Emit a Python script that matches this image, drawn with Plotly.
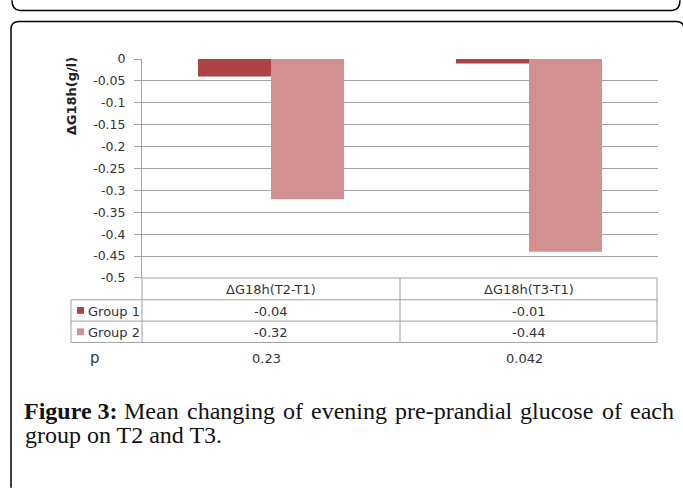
import plotly.graph_objects as go

# ---- data ----
categories = ["ΔG18h(T2-T1)", "ΔG18h(T3-T1)"]
group_names = ["Group 1", "Group 2"]
group1 = [-0.04, -0.01]
group2 = [-0.32, -0.44]
p_values = ["0.23", "0.042"]
y_tickvals = [0, -0.05, -0.1, -0.15, -0.2, -0.25, -0.3, -0.35, -0.4, -0.45, -0.5]
y_ticktext = ["0", "-0.05", "-0.1", "-0.15", "-0.2", "-0.25", "-0.3", "-0.35", "-0.4", "-0.45", "-0.5"]
y_label = "ΔG18h(g/l)"
caption_bold = "Figure 3:"
caption_words1 = ["Mean", "changing", "of", "evening", "pre-prandial", "glucose", "of", "each"]
caption_line2 = "group on T2 and T3."

# ---- layout helpers ----
W, H = 683, 490
def px(x):
    return x / W
def py(y):
    return 1 - y / H

colors = ["#AE4346", "#D29090"]
grid_col = "#A3A3A3"
table_col = "#A0A0A0"
font_fam = "DejaVu Sans"
txt_col = "#333333"

x_left, x_right = 142, 658
y_top, y_bot = 52.7, 278.5

fig = go.Figure()
for name, vals, c in zip(group_names, [group1, group2], colors):
    fig.add_trace(go.Bar(x=categories, y=vals, name=name, marker=dict(color=c, line=dict(width=0)),
                         showlegend=False))

shapes = []
annotations = []

def line(x0, y0, x1, y1, color=table_col, width=1):
    shapes.append(dict(type="line", xref="paper", yref="paper", x0=px(x0), y0=py(y0), x1=px(x1), y1=py(y1),
                       line=dict(color=color, width=width), layer="above"))

# table lines
t_left, t_div1, t_div2, t_right = 71, 142, 400, 657
r0, r1, r2, r3 = 278.5, 301, 323, 345
line(t_div1, r0, t_right, r0)
for r in [r1, r2, r3]:
    line(t_left, r, t_right, r)
line(t_left, r1, t_left, r3)
for xv in [t_div1, t_div2, t_right]:
    line(xv, r0, xv, r3)

tfont = dict(family=font_fam, size=13, color=txt_col)
# table texts (from data)
row_y = [(r0 + r1) / 2 + 1, (r1 + r2) / 2 + 1, (r2 + r3) / 2 + 1]
for i, cat in enumerate(categories):
    annotations.append(dict(x=cat, xref="x", y=py(row_y[0]), yref="paper", text=cat, showarrow=False,
                            font=tfont, xanchor="center", yanchor="middle"))
    for j, vals in enumerate([group1, group2]):
        annotations.append(dict(x=cat, xref="x", y=py(row_y[j + 1]), yref="paper", text=f"{vals[i]:.2f}",
                                showarrow=False, font=tfont, xanchor="center", yanchor="middle"))
    annotations.append(dict(x=cat, xref="x", xshift=-5, y=py(362), yref="paper", text=p_values[i], showarrow=False,
                            font=tfont, xanchor="center", yanchor="middle"))

# legend keys in table
for j, (name, c) in enumerate(zip(group_names, colors)):
    yc = (r1 + r2) / 2 if j == 0 else (r2 + r3) / 2
    shapes.append(dict(type="rect", xref="paper", yref="paper", x0=px(77), x1=px(84), y0=py(yc - 3.5), y1=py(yc + 3.5),
                       fillcolor=c, line=dict(width=0), layer="above"))
    annotations.append(dict(x=px(86), xref="paper", y=py(row_y[j + 1]), yref="paper", text=name, showarrow=False,
                            font=tfont, xanchor="left", yanchor="middle"))

annotations.append(dict(x=px(95), xref="paper", y=py(361), yref="paper", text="p", showarrow=False,
                        font=dict(family=font_fam, size=15, color=txt_col), xanchor="center", yanchor="middle"))

# y axis label
annotations.append(dict(x=px(71), xref="paper", y=py(91), yref="paper", text=f"<b>{y_label}</b>", showarrow=False,
                        textangle=-90, font=dict(family=font_fam, size=13, color="#222222"),
                        xanchor="center", yanchor="middle"))

# caption: line 1 justified between left and right edges using approximate serif glyph widths
csize = 24
cfont = dict(family="Liberation Serif", size=csize, color="#111111")
char_w = {"a": .444, "b": .5, "c": .444, "d": .5, "e": .444, "f": .333, "g": .5, "h": .5, "i": .278,
          "l": .278, "m": .778, "n": .5, "o": .5, "p": .5, "r": .333, "s": .389, "u": .5, "v": .5,
          "M": .889, "F": .611, "-": .333, " ": .25, "3": .5, ":": .333}
def text_w(s):
    return sum(char_w.get(ch, .5) for ch in s) * csize

cap_left, cap_right = 22, 672
pieces = [(f"<b>{caption_bold}</b>", text_w(caption_bold) * 1.02)] + [(w, text_w(w)) for w in caption_words1]
total = sum(w for _, w in pieces)
gap = (cap_right - cap_left - total) / (len(pieces) - 1)
line1_mid, line2_mid = 416, 440.5
xpos = cap_left
for txt, w in pieces:
    annotations.append(dict(x=px(xpos), xref="paper", y=py(line1_mid), yref="paper", text=txt,
                            showarrow=False, font=cfont, xanchor="left", yanchor="middle"))
    xpos += w + gap
annotations.append(dict(x=px(cap_left + 1), xref="paper", y=py(line2_mid), yref="paper", text=caption_line2,
                        showarrow=False, font=cfont, xanchor="left", yanchor="middle"))

# frames
r = 8
top_box = (f"M {px(12)},{py(-8)} Q {px(12)},{py(2.5)} {px(12 + r)},{py(2.5)} "
           f"L {px(672)},{py(2.5)} Q {px(680)},{py(2.5)} {px(680)},{py(-8)}")
shapes.append(dict(type="path", xref="paper", yref="paper", path=top_box,
                   line=dict(color="#000000", width=1.5)))
main_box = (f"M {px(11)},{py(495)} L {px(11)},{py(14 + r)} Q {px(11)},{py(14)} {px(11 + r)},{py(14)} "
            f"L {px(676)},{py(14)} Q {px(684)},{py(14)} {px(684)},{py(14 + r)}")
shapes.append(dict(type="path", xref="paper", yref="paper", path=main_box,
                   line=dict(color="#000000", width=1.5)))

fig.update_layout(
    width=W, height=H,
    margin=dict(l=0, r=0, t=0, b=0),
    paper_bgcolor="white", plot_bgcolor="white",
    barmode="group", bargap=0.434, bargroupgap=0,
    shapes=shapes, annotations=annotations,
    font=dict(family=font_fam, size=12, color=txt_col),
    xaxis=dict(domain=[px(x_left), px(x_right)], range=[-0.5, 1.5], showticklabels=False,
               showgrid=False, zeroline=False, showline=False, ticks=""),
    yaxis=dict(domain=[py(y_bot), py(y_top)], range=[-0.5, 0], tickvals=y_tickvals, ticktext=y_ticktext,
               showgrid=True, gridcolor=grid_col, gridwidth=1, zeroline=False,
               showline=True, linecolor=grid_col, linewidth=1,
               ticks="outside", ticklen=7, tickcolor=grid_col, ticklabelstandoff=6,
               tickfont=dict(family=font_fam, size=12.5, color=txt_col)),
)

fig.write_html("out.html")
